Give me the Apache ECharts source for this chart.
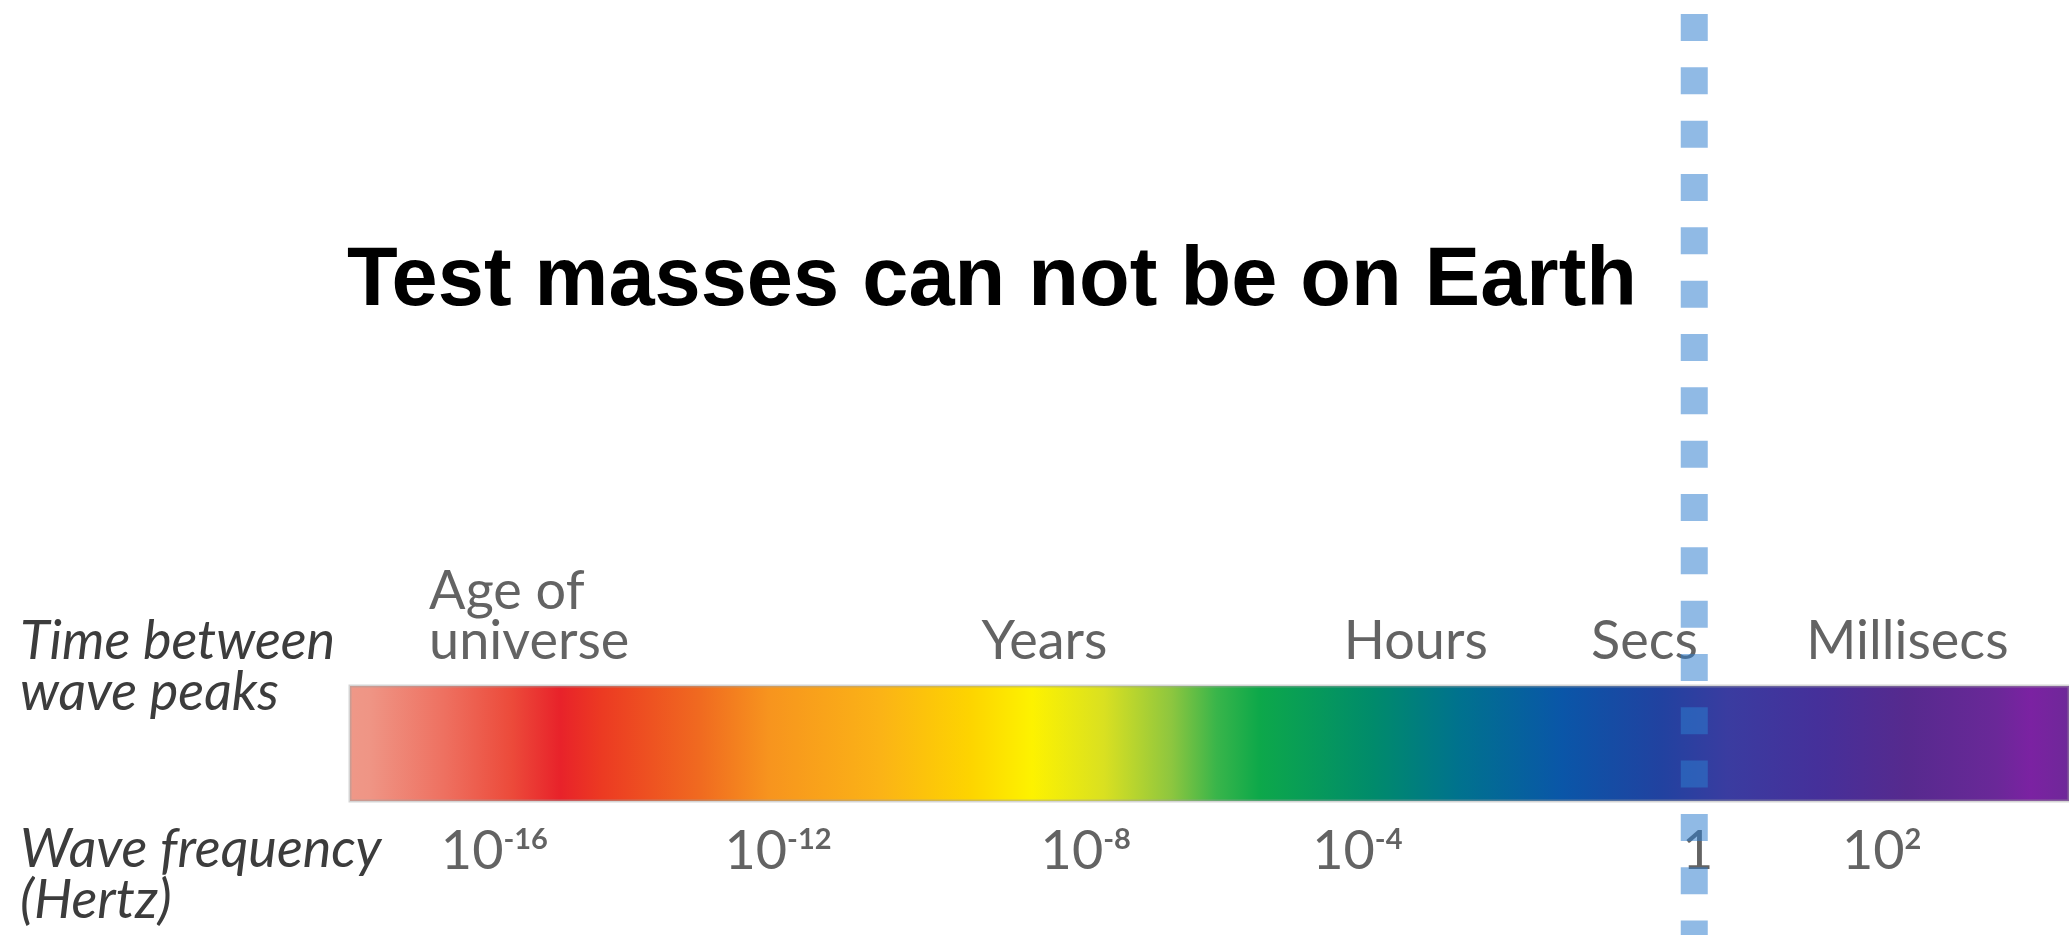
<!DOCTYPE html>
<html>
<head>
<meta charset="utf-8">
<script src="https://cdn.jsdelivr.net/npm/echarts@6/dist/echarts.min.js"></script>
<style>
  html, body { margin: 0; padding: 0; background: #fff; }
  #chart { width: 2069px; height: 935px; }
</style>
</head>
<body>
<div id="chart"></div>
<script>
// x positions are % along the colour band (0 = left end, 100 = right edge of picture)
let bandExtent = [0, 100]
let gradientPos = [0, 1.2, 5.6, 9.5, 12.3, 14.7, 20.4, 24.4, 30.9, 36.1, 39.7, 43.9, 47.8, 50.4, 52.9, 59.5, 64.5, 70.5, 76.2, 80.1, 85.3, 90.5, 95.7, 97.7, 100]
let gradientColors = ['#ef9888', '#ef9585', '#ee7060', '#ec4a3a', '#e8222a', '#ec3a22', '#f06a20', '#f7941e', '#fbb316', '#fdd400', '#fdf200', '#d9e021', '#8dc63f', '#39b54a', '#0da84a', '#008b6b', '#00728e', '#0a56a8', '#2142a0', '#3a3ca0', '#45309a', '#562a8e', '#6a2898', '#7b22a2', '#6e2898']

let periodLabels = ['Age of\nuniverse', 'Years', 'Hours', 'Secs', 'Millisecs']
let periodPos = [4.6, 40.4, 62.0, 75.3, 90.6]

let freqBase = ['10', '10', '10', '10', '1', '10']
let freqExp = ['-16', '-12', '-8', '-4', '', '2']
let freqPos = [8.4, 24.9, 42.8, 58.6, 78.4, 89.1]

let oneHertzPos = 78.2

let titleText = 'Test masses can not be on Earth'
let rowLabels = [['Time between', 'wave peaks'], ['Wave frequency', '(Hertz)']]

const labelFont = 'Lato'
const labelColor = '#3c3c3c'

var chart = echarts.init(document.getElementById('chart'))

let stops = gradientPos.map((p, i) => ({
  offset: (p - bandExtent[0]) / (bandExtent[1] - bandExtent[0]),
  color: gradientColors[i]
}))

let rowText = []
let rowTop = [663, 871]
rowLabels.forEach((lines, r) => {
  lines.forEach((line, i) => {
    rowText.push({
      type: 'text',
      x: 20,
      y: rowTop[r] + i * 51 - 21,
      style: {
        text: line,
        font: 'italic 54px ' + labelFont,
        fill: labelColor,
        textAlign: 'left',
        textVerticalAlign: 'middle'
      }
    })
  })
})

let option = {
  animation: false,
  backgroundColor: '#fff',
  graphic: [
    {
      type: 'text',
      x: 992,
      y: 282,
      style: {
        text: titleText,
        font: 'bold 83px "Liberation Sans"',
        fill: '#000',
        textAlign: 'center',
        textVerticalAlign: 'middle'
      }
    },
    ...rowText
  ],
  grid: [
    { left: 350, right: 0, top: 686, height: 115 },
    { left: 350, right: 0, top: 0, bottom: 0 }
  ],
  xAxis: [
    { type: 'value', min: 0, max: 100, show: false, gridIndex: 0 },
    { type: 'value', min: 0, max: 100, show: false, gridIndex: 1 }
  ],
  yAxis: [
    { type: 'value', min: 0, max: 1, show: false, gridIndex: 0 },
    { type: 'value', min: 0, max: 1, show: false, gridIndex: 1 }
  ],
  series: [
    {
      type: 'custom',
      xAxisIndex: 0,
      yAxisIndex: 0,
      z: 1,
      data: [bandExtent],
      renderItem: (params, api) => {
        let a = api.coord([api.value(0), 1])
        let b = api.coord([api.value(1), 0])
        return {
          type: 'rect',
          shape: { x: a[0], y: a[1], width: b[0] - a[0], height: b[1] - a[1] },
          style: {
            fill: new echarts.graphic.LinearGradient(0, 0, 1, 0, stops),
            stroke: 'rgba(160,160,160,0.45)',
            lineWidth: 3
          }
        }
      }
    },
    {
      // time between peaks, above the band
      type: 'scatter',
      xAxisIndex: 0,
      yAxisIndex: 0,
      z: 3,
      symbolSize: 0,
      data: periodLabels.map((t, i) => ({ value: [periodPos[i], 1], name: t })),
      label: {
        show: true,
        position: 'top',
        distance: 19,
        formatter: p => p.name,
        fontFamily: labelFont,
        fontSize: 54,
        lineHeight: 50,
        color: labelColor,
        align: 'center'
      },
      labelLayout: { hideOverlap: false }
    },
    {
      // frequency ticks, below the band
      type: 'scatter',
      xAxisIndex: 0,
      yAxisIndex: 0,
      z: 3,
      symbolSize: 0,
      data: freqPos.map((x, i) => ({ value: [x, 0], base: freqBase[i], exp: freqExp[i] })),
      label: {
        show: true,
        position: 'bottom',
        distance: 24,
        formatter: p => p.data.exp ? `{b|${p.data.base}}{s|${p.data.exp}}` : `{b|${p.data.base}}`,
        rich: {
          b: { fontFamily: labelFont, fontSize: 54, lineHeight: 54, color: labelColor },
          s: { fontFamily: labelFont, fontSize: 29, lineHeight: 29, color: labelColor, fontWeight: 'bold', verticalAlign: 'top' }
        }
      }
    },
    {
      type: 'line',
      xAxisIndex: 1,
      yAxisIndex: 1,
      z: 10,
      symbol: 'none',
      silent: true,
      data: [[oneHertzPos, 1], [oneHertzPos, 0]],
      lineStyle: {
        width: 27,
        color: 'rgba(45,125,205,0.53)',
        type: [27, 26.33],
        dashOffset: 39.33,
        cap: 'butt'
      }
    }
  ]
}

// "Age of universe" is left aligned in the picture
option.series[1].data[0].label = { align: 'left' }

chart.setOption(option)
</script>
</body>
</html>
